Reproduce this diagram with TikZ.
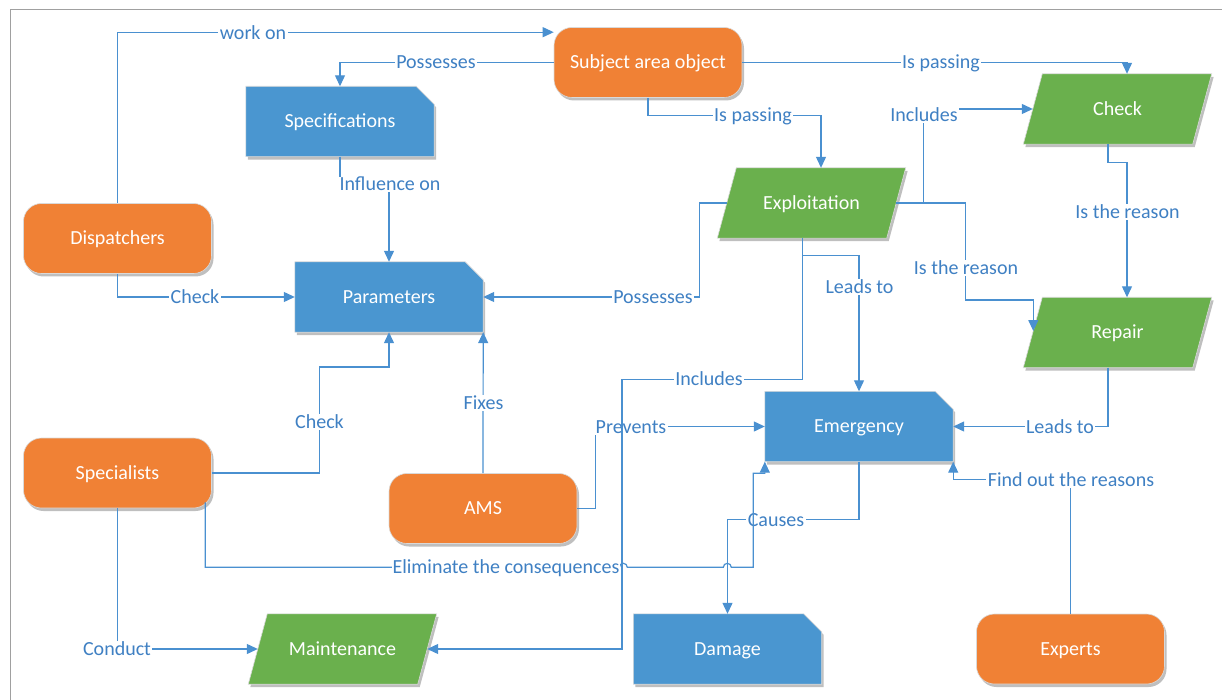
\documentclass[tikz,border=0pt]{standalone}
\usepackage{fontspec}
\setmainfont{Carlito}
\usetikzlibrary{arrows.meta,shadows}
\definecolor{orangeF}{HTML}{F08135}
\definecolor{blueF}{HTML}{4A96D0}
\definecolor{greenF}{HTML}{6AB04D}
\definecolor{lineC}{HTML}{4A90D0}
\definecolor{labelC}{HTML}{3F80C3}
\definecolor{frameC}{HTML}{A0A0A0}
\pgfdeclarelayer{bg}
\pgfsetlayers{bg,main}
\newcommand\docshape[1]{\path[dshape] (#1.south west) -- (#1.north west) -- ([xshift=-18pt]#1.north east) -- ([yshift=-18pt]#1.north east) -- (#1.south east) -- cycle;}
\newcommand\parashape[1]{\path[pshape] ([xshift=19pt]#1.north west) -- (#1.north east) -- ([xshift=-19pt]#1.south east) -- (#1.south west) -- cycle;}
\tikzset{
 box/.style={minimum width=188pt, minimum height=70pt, inner sep=0pt, text=white, font=\fontsize{20}{24}\selectfont, text height=12.9pt, text depth=0pt},
 shad/.style={drop shadow={shadow xshift=2pt, shadow yshift=-3pt, opacity=0.25, fill=black}},
 actor/.style={box, rounded corners=18pt, fill=orangeF, draw=black!15, line width=0.6pt, shad},
 dshape/.style={fill=blueF, draw=black!15, line width=0.6pt, shad},
 pshape/.style={fill=greenF, draw=black!15, line width=0.6pt, shad},
 conn/.style={draw=lineC, line width=1.2pt, -{Triangle[length=11pt,width=10pt]}},
 lab/.style={fill=white, text=labelC, inner sep=1.5pt, font=\fontsize{20}{24}\selectfont, text height=12.9pt, text depth=0pt},
}
\begin{document}
\begin{tikzpicture}[x=1pt,y=-1pt]
\useasboundingbox (0,0) rectangle (1222,700);
\draw[frameC, line width=1pt] (10,700) -- (10,10) -- (1222,10);
% nodes
\node[actor] (subj) at (648,62.5) {Subject area object};
\node[box] (spec) at (340,121.5) {Specifications};
\node[box] (params) at (389,297) {Parameters};
\node[actor] (disp) at (117.5,238.5) {Dispatchers};
\node[box] (exp) at (811.5,203) {Exploitation};
\node[box] (check) at (1117.5,109) {Check};
\node[box] (repair) at (1117.5,332.5) {Repair};
\node[box] (emerg) at (859,426.5) {Emergency};
\node[actor] (ams) at (483,508.5) {AMS};
\node[actor] (spc) at (117.5,473) {Specialists};
\node[box] (maint) at (342.5,649) {Maintenance};
\node[box] (damage) at (727.5,649) {Damage};
\node[actor] (experts) at (1070.5,649) {Experts};
\begin{pgfonlayer}{bg}
\docshape{spec}\docshape{params}\docshape{emerg}\docshape{damage}
\parashape{exp}\parashape{check}\parashape{repair}\parashape{maint}
\end{pgfonlayer}
% connectors
\draw[conn] (disp.north) |- ([yshift=-5pt]subj.north west);
\node[lab] (l1) at (253,33) {work on};
\draw[conn] (subj.west) -| (spec.north);
\node[lab] (l2) at (436,62.5) {Possesses};
\draw[conn] (subj.south) -- ++(0,18) -| ([xshift=9.5pt]exp.north);
\node[lab] (l3) at (753,115.5) {Is passing};
\draw[conn] (subj.east) -| ([xshift=9.5pt]check.north);
\node[lab] (l4) at (941,62.5) {Is passing};
\draw[conn] (spec.south) -- ++(0,28) -| (params.north);
\node[lab] (l5) at (390,184.5) {Influence on};
\draw[conn] (disp.south) |- (params.west);
\node[lab] (l6) at (195,297) {Check};
\draw[conn] ([xshift=9.5pt]exp.west) -- ++(-27,0) |- (params.east);
\node[lab] (l7) at (653,297) {Possesses};
\draw[conn] ([xshift=-9.5pt]exp.east) -- ++(27,0) |- ([xshift=9.5pt]check.west);
\node[lab] (l8) at (924,115) {Includes};
\draw[conn] ([xshift=-9.5pt]exp.east) -- ++(69,0) -- ++(0,97) -| ([xshift=10pt,yshift=1.5pt]repair.west);
\node[lab] (l9) at (966,268) {Is the reason};
\draw[conn] ([xshift=-9.5pt]check.south) -- ++(0,18) -| ([xshift=9.5pt]repair.north);
\node[lab] (l10) at (1127.5,212) {Is the reason};
\draw[conn] ([xshift=-9pt]exp.south) -- ++(0,17) -| (emerg.north);
\node[lab] (l11) at (859.5,287) {Leads to};
\draw[conn] (ams.north) -- (params.south east);
\node[lab] (l12) at (483.5,403) {Fixes};
\draw[conn] (spc.east) -| ++(107.5,-106) -| (params.south);
\node[lab] (l13) at (319.5,422) {Check};
\draw[conn] (ams.east) -- ++(18,0) |- (emerg.west);
\node[lab] (l14) at (631,427) {Prevents};
\draw[conn] (emerg.south) -- ++(0,58) -| (damage.north);
\node[lab] (l15) at (776,520) {Causes};
\draw[conn] ([xshift=-6.5pt,yshift=6pt]spc.south east) -- ++(0,65) -- ++(414,0)
  arc[start angle=180,end angle=0,radius=4pt] -- ++(96,0)
  arc[start angle=180,end angle=0,radius=4pt] -- ++(22,0) -- ++(0,-94) -| (emerg.south west);
\node[lab, inner xsep=0.5pt] (l16) at (506,567) {Eliminate the consequences};
\draw[conn] ([xshift=-9pt]exp.south) -- ++(0,141) -- ++(-180.5,0) |- ([xshift=-9.5pt]maint.east);
\node[lab] (l17) at (709,379) {Includes};
\draw[conn] ([xshift=-9.5pt]repair.south) |- (emerg.east);
\node[lab] (l18) at (1060,427) {Leads to};
\draw[conn] (experts.north) -- ++(0,-134) -| (emerg.south east);
\node[lab] (l19) at (1071,480) {Find out the reasons};
\draw[conn] (spc.south) |- ([xshift=9.5pt]maint.west);
\node[lab] (l20) at (117,649) {Conduct};
\end{tikzpicture}
\end{document}
